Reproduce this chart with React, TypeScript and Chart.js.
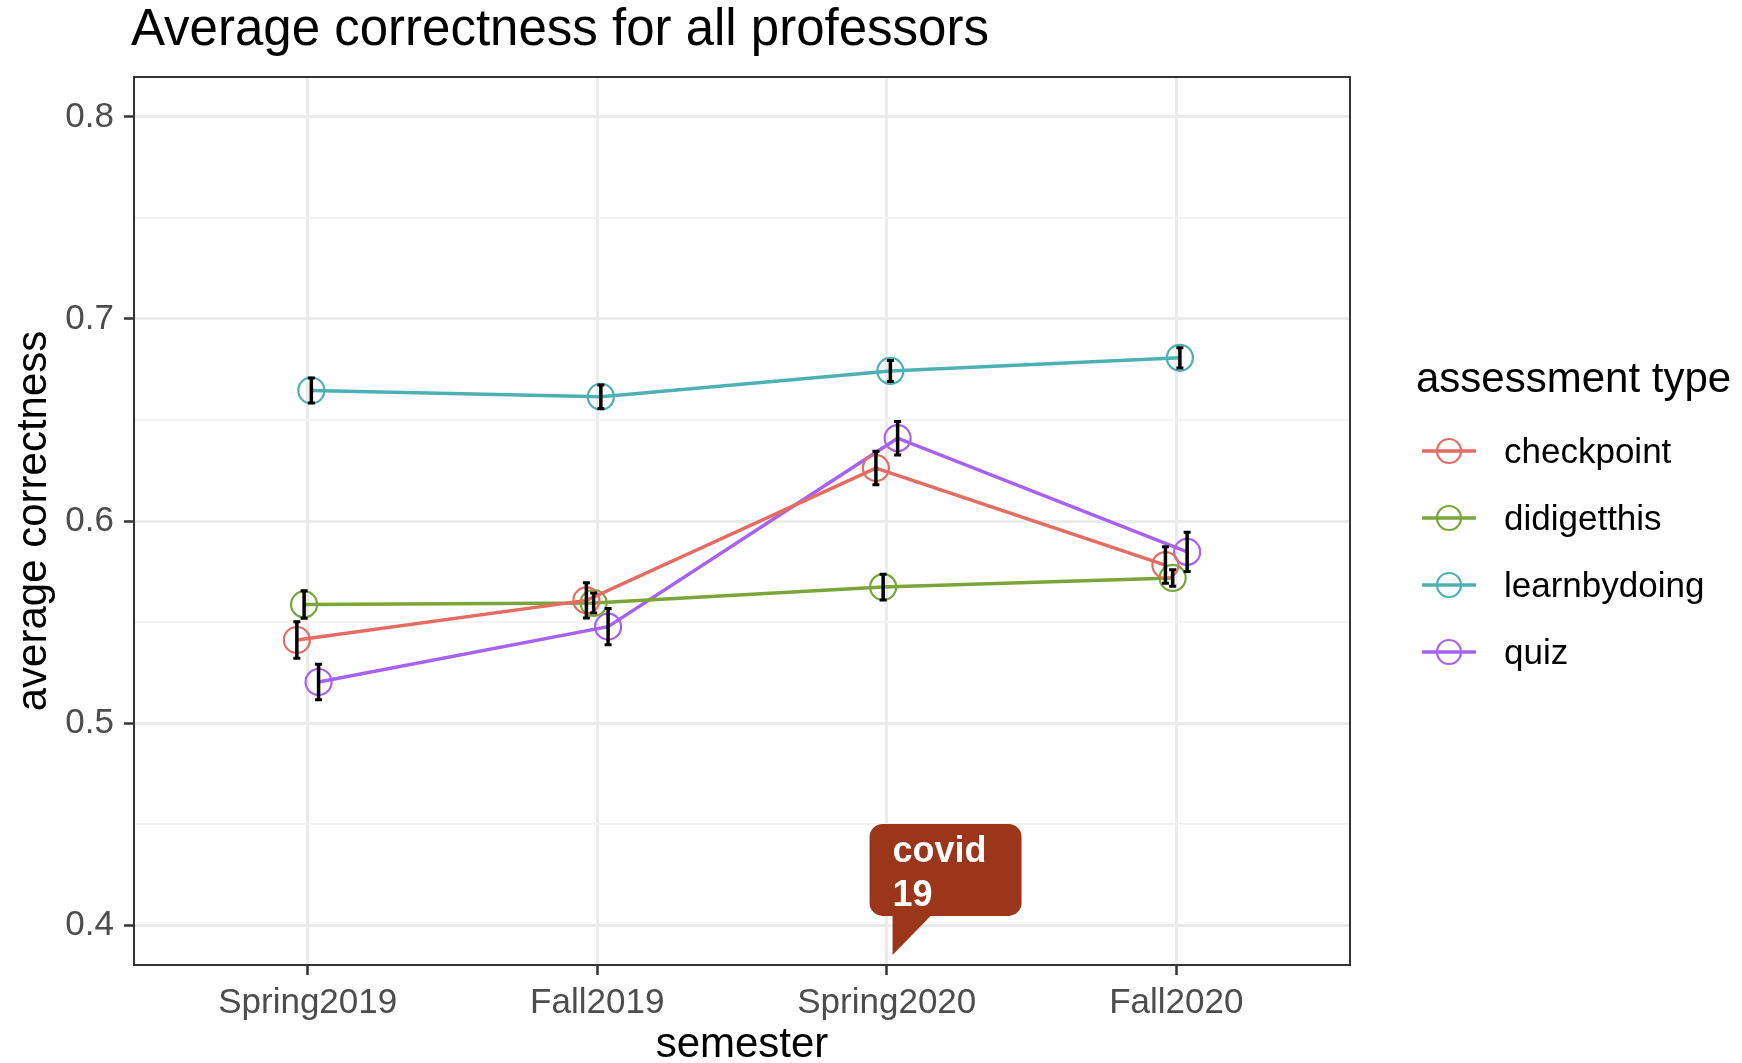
import React, { useEffect, useRef } from 'react';
import { Chart, registerables } from 'chart.js';

Chart.register(...registerables);

// ---------- data ----------
const semesters = ['Spring2019', 'Fall2019', 'Spring2020', 'Fall2020'];
const seriesNames = ['checkpoint', 'didigetthis', 'learnbydoing', 'quiz'];

const checkpointMean = [0.5411, 0.5607, 0.6262, 0.5782];
const checkpointErr = [0.009, 0.0087, 0.0083, 0.009];
const didigetthisMean = [0.5587, 0.5594, 0.5673, 0.5718];
const didigetthisErr = [0.0068, 0.005, 0.0064, 0.0041];
const learnbydoingMean = [0.6646, 0.6615, 0.6743, 0.6808];
const learnbydoingErr = [0.0062, 0.0058, 0.0052, 0.005];
const quizMean = [0.5203, 0.5477, 0.641, 0.5847];
const quizErr = [0.0088, 0.009, 0.0083, 0.0097];

const yMajorTicks = [0.4, 0.5, 0.6, 0.7, 0.8];
const yMinorTicks = [0.45, 0.55, 0.65, 0.75];
const dodgeOffsets = [-0.0375, -0.0125, 0.0125, 0.0375];

const covidText = ['covid', '19'];
const covidAnchor = { x: 2.02, y: 0.3852 };

const titleText = 'Average correctness for all professors';
const xTitle = 'semester';
const yTitle = 'average correctness';
const legendTitle = 'assessment type';

const means = [checkpointMean, didigetthisMean, learnbydoingMean, quizMean];
const errs = [checkpointErr, didigetthisErr, learnbydoingErr, quizErr];
const colors = ['#E46C63', '#7BA53A', '#4DB1B3', '#A762F2'];

const FONT = '"Liberation Sans", Arial, Helvetica, sans-serif';

const isMajor = (v: number) => Math.abs(v * 10 - Math.round(v * 10)) < 1e-6;

const decorPlugin = {
  id: 'decor',
  afterDatasetsDraw(chart: any) {
    const ctx = chart.ctx;
    const xs = chart.scales.x;
    const ys = chart.scales.y;
    const area = chart.chartArea;
    ctx.save();
    ctx.beginPath();
    ctx.rect(area.left, area.top, area.right - area.left, area.bottom - area.top);
    ctx.clip();
    // error bars
    ctx.strokeStyle = '#000000';
    ctx.lineWidth = 3.5;
    ctx.lineCap = 'butt';
    for (let s = 0; s < means.length; s++) {
      for (let i = 0; i < semesters.length; i++) {
        const x = xs.getPixelForValue(i + dodgeOffsets[s]);
        const y1 = ys.getPixelForValue(means[s][i] - errs[s][i]);
        const y2 = ys.getPixelForValue(means[s][i] + errs[s][i]);
        ctx.beginPath();
        ctx.moveTo(x, y1);
        ctx.lineTo(x, y2);
        ctx.stroke();
        ctx.lineWidth = 3;
        ctx.beginPath();
        ctx.moveTo(x - 3.5, y1);
        ctx.lineTo(x + 3.5, y1);
        ctx.moveTo(x - 3.5, y2);
        ctx.lineTo(x + 3.5, y2);
        ctx.stroke();
        ctx.lineWidth = 3.5;
      }
    }
    ctx.restore();

    // panel border
    ctx.save();
    ctx.strokeStyle = '#333333';
    ctx.lineWidth = 2;
    ctx.strokeRect(area.left, area.top, area.right - area.left, area.bottom - area.top);
    ctx.restore();

    // covid callout
    const tx = xs.getPixelForValue(covidAnchor.x);
    const ty = ys.getPixelForValue(covidAnchor.y);
    ctx.save();
    ctx.fillStyle = '#9C361B';
    const rl = tx - 23, rr = tx + 129, rt = ty - 131, rb = ty - 39, r = 13;
    ctx.beginPath();
    ctx.moveTo(rl + r, rt);
    ctx.lineTo(rr - r, rt);
    ctx.arcTo(rr, rt, rr, rt + r, r);
    ctx.lineTo(rr, rb - r);
    ctx.arcTo(rr, rb, rr - r, rb, r);
    ctx.lineTo(rl + r, rb);
    ctx.arcTo(rl, rb, rl, rb - r, r);
    ctx.lineTo(rl, rt + r);
    ctx.arcTo(rl, rt, rl + r, rt, r);
    ctx.closePath();
    ctx.fill();
    ctx.beginPath();
    ctx.moveTo(tx, rb - 1);
    ctx.lineTo(tx + 39, rb - 1);
    ctx.lineTo(tx, ty);
    ctx.closePath();
    ctx.fill();
    ctx.fillStyle = '#FFFFFF';
    ctx.font = `bold 36px ${FONT}`;
    ctx.textBaseline = 'alphabetic';
    ctx.textAlign = 'left';
    ctx.fillText(covidText[0], tx, ty - 93);
    ctx.fillText(covidText[1], tx, ty - 49);
    ctx.restore();
  },
  afterDraw(chart: any) {
    const ctx = chart.ctx;
    const area = chart.chartArea;
    ctx.save();
    ctx.fillStyle = '#000000';
    ctx.textBaseline = 'alphabetic';
    // title
    ctx.font = `51px ${FONT}`;
    ctx.textAlign = 'left';
    ctx.fillText(titleText, 131, 45);
    // x title
    ctx.font = `42px ${FONT}`;
    ctx.textAlign = 'center';
    ctx.fillText(xTitle, (area.left + area.right) / 2, 1057);
    // y title
    ctx.save();
    ctx.translate(46, (area.top + area.bottom) / 2);
    ctx.rotate(-Math.PI / 2);
    ctx.fillText(yTitle, 0, 0);
    ctx.restore();
    // legend
    ctx.textAlign = 'left';
    ctx.fillText(legendTitle, 1416, 392);
    ctx.font = `35px ${FONT}`;
    for (let s = 0; s < seriesNames.length; s++) {
      const y = 451 + s * 67;
      ctx.strokeStyle = colors[s];
      ctx.lineWidth = 3.5;
      ctx.beginPath();
      ctx.moveTo(1422, y);
      ctx.lineTo(1476, y);
      ctx.stroke();
      ctx.lineWidth = 2.2;
      ctx.beginPath();
      ctx.arc(1449, y, 12, 0, Math.PI * 2);
      ctx.stroke();
      ctx.fillStyle = '#000000';
      ctx.fillText(seriesNames[s], 1504, y + 12);
    }
    ctx.restore();
  },
};

export default function App() {
  const canvasRef = useRef<HTMLCanvasElement | null>(null);

  useEffect(() => {
    const canvas = canvasRef.current;
    if (!canvas) return;
    const datasets = seriesNames.map((name, s) => ({
      label: name,
      data: means[s].map((v, i) => ({ x: i + dodgeOffsets[s], y: v })),
      borderColor: colors[s],
      backgroundColor: 'rgba(0,0,0,0)',
      borderWidth: 3.5,
      pointRadius: 13,
      pointBorderWidth: 2.2,
      pointBackgroundColor: 'rgba(0,0,0,0)',
      pointBorderColor: colors[s],
      showLine: true,
      tension: 0,
    }));
    const chart = new Chart(canvas, {
      type: 'line',
      data: { datasets },
      options: {
        animation: false,
        responsive: false,
        devicePixelRatio: 1,
        events: [],
        layout: { padding: { left: 0, top: 77, right: 392, bottom: 0 } },
        plugins: { legend: { display: false }, title: { display: false }, tooltip: { enabled: false } },
        scales: {
          x: {
            type: 'linear',
            min: -0.6,
            max: 3.6,
            afterFit: (s: any) => { s.height = 98; },
            afterBuildTicks: (s: any) => { s.ticks = semesters.map((_, i) => ({ value: i })); },
            ticks: {
              padding: 7,
              color: '#4D4D4D',
              font: { family: FONT, size: 35 },
              maxRotation: 0,
              autoSkip: false,
              callback: (v: any) => semesters[Math.round(Number(v))] ?? '',
            },
            grid: { color: '#EBEBEB', lineWidth: 3, tickColor: '#333333', tickLength: 10, tickWidth: 2.5 },
            border: { display: false },
          },
          y: {
            type: 'linear',
            min: 0.3802,
            max: 0.8198,
            afterFit: (s: any) => { s.width = 134; },
            afterBuildTicks: (s: any) => {
              s.ticks = [...yMajorTicks, ...yMinorTicks].sort((a, b) => a - b).map((v) => ({ value: v }));
            },
            ticks: {
              padding: 10,
              color: '#4D4D4D',
              font: { family: FONT, size: 35 },
              autoSkip: false,
              callback: (v: any) => (isMajor(Number(v)) ? Number(v).toFixed(1) : ''),
            },
            grid: {
              color: (c: any) => (c.tick && isMajor(c.tick.value) ? '#EBEBEB' : '#F3F3F3'),
              lineWidth: (c: any) => (c.tick && isMajor(c.tick.value) ? 3 : 1.8),
              tickColor: (c: any) => (c.tick && isMajor(c.tick.value) ? '#333333' : 'rgba(0,0,0,0)'),
              tickLength: 10,
              tickWidth: 2.5,
            },
            border: { display: false },
          },
        },
      },
      plugins: [decorPlugin],
    } as any);
    return () => chart.destroy();
  }, []);

  return (
    <div style={{ position: 'fixed', left: 0, top: 0, width: 1742, height: 1063, background: '#ffffff' }}>
      <canvas ref={canvasRef} width={1742} height={1063} style={{ width: 1742, height: 1063, display: 'block' }} />
    </div>
  );
}
